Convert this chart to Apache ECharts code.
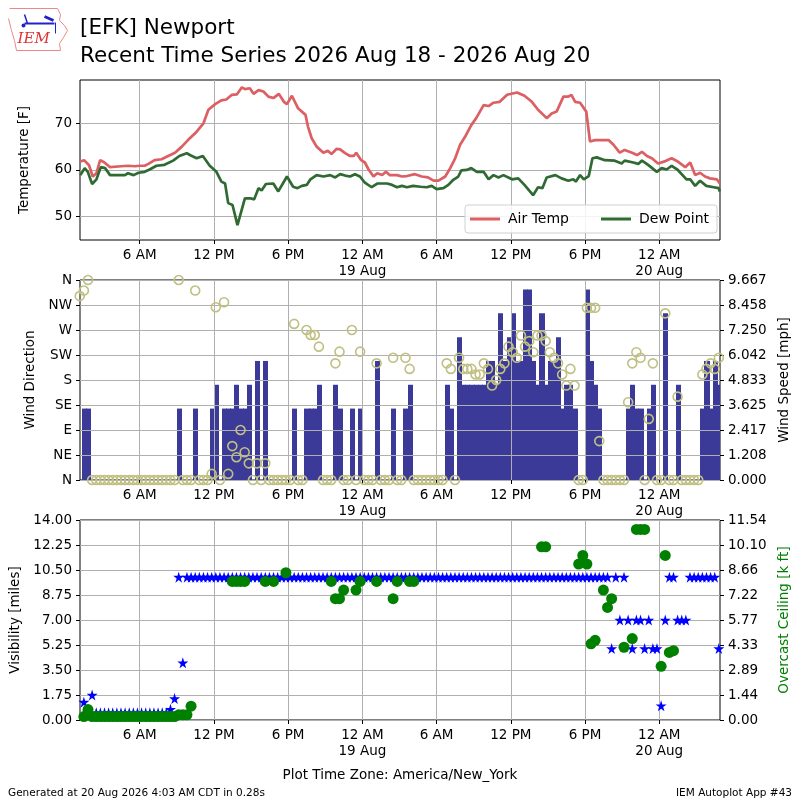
<!DOCTYPE html>
<html>
<head>
<meta charset="utf-8">
<title>[EFK] Newport</title>
<script src="https://cdn.jsdelivr.net/npm/echarts@6/dist/echarts.min.js"></script>
<style>
html, body { margin: 0; padding: 0; background: #fff; }
#main { width: 800px; height: 800px; }
</style>
</head>
<body>
<div id="main"></div>
<script>
// all times are hours since 2026-08-18 00:00 America/New_York
var xTickHours = [6, 12, 18, 24, 30, 36, 42, 48];
var xTickLabels = ['6 AM', '12 PM', '6 PM', '12 AM\n19 Aug', '6 AM', '12 PM', '6 PM', '12 AM\n20 Aug'];

// air temperature [F]
var airHours = [1.2,1.5,1.9,2.2,2.5,2.8,3.15,3.6,4.5,5.05,5.6,6.0,6.4,6.7,7.2,7.76,8.3,8.85,9.4,9.9,
  10.6,11.15,11.55,12.1,12.6,13.0,13.45,13.86,14.26,14.5,14.9,15.2,15.6,16.0,16.4,16.8,17.25,17.65,17.9,18.3,
  18.8,19.4,19.6,19.9,20.3,20.85,21.2,21.5,21.9,22.2,22.6,23.0,23.3,23.5,23.9,24.2,24.5,24.9,25.2,25.6,
  25.9,26.2,26.8,27.2,27.6,28.25,28.8,29.3,29.75,30.15,30.7,31.1,31.5,31.9,32.3,32.8,33.2,33.8,34.2,34.6,
  35.1,35.7,36.5,37.1,37.7,38.2,38.9,39.3,39.7,40.25,40.65,40.9,41.2,41.6,42.1,42.4,42.8,43.9,44.3,44.8,
  45.2,45.8,46.2,46.6,47.0,47.4,47.9,48.5,49.0,49.5,50.1,50.5,50.9,51.3,51.7,52.1,52.65,52.9];
var airF = [61.8,62.1,61.0,58.6,59.3,62.1,61.6,60.6,60.8,60.9,60.8,60.9,60.9,61.3,62.1,62.3,63.0,63.7,65.0,66.4,
  68.2,70.0,72.9,74.1,74.9,75.1,76.1,76.2,77.7,77.3,77.5,76.3,77.1,76.8,75.7,75.4,76.3,74.6,74.1,75.9,
  73.2,71.8,69.3,66.8,65.0,63.7,64.1,63.4,64.5,64.4,63.6,63.0,63.0,63.7,62.1,61.6,60.1,58.6,59.3,58.9,
  59.6,58.9,58.9,58.6,58.7,59.1,58.6,58.4,57.7,57.7,58.6,60.4,62.5,65.4,67.1,69.6,71.1,73.9,73.7,74.4,
  74.6,76.1,76.6,75.9,74.6,72.9,71.1,72.1,72.5,75.7,75.7,76.1,74.6,74.4,72.5,66.1,66.4,66.4,65.4,63.7,
  64.3,63.7,63.2,63.9,63.0,62.5,61.4,61.9,62.5,61.8,60.6,61.6,58.9,59.4,58.6,58.2,58.0,57.1];

// dew point [F]
var dewHours = [1.2,1.55,1.8,2.15,2.5,2.85,3.2,3.6,4.8,5.05,5.5,5.9,6.4,6.8,7.35,8.0,8.7,9.2,9.8,10.05,
  10.6,11.1,11.66,12.2,12.6,12.9,13.15,13.5,13.9,14.5,15.0,15.25,15.6,15.85,16.2,16.8,17.2,17.9,18.4,18.75,
  19.1,19.5,19.8,20.3,20.85,21.4,21.8,22.2,22.6,23.0,23.4,23.8,24.2,24.75,25.2,26.0,26.4,26.8,27.2,27.6,
  28.1,28.7,29.2,29.6,30.0,30.55,30.95,31.35,31.75,32.0,32.45,32.8,33.25,33.8,34.2,34.6,35.0,35.4,35.8,36.1,
  36.6,37.1,37.8,38.2,38.55,38.9,39.6,40.1,40.65,41.05,41.25,41.6,41.9,42.3,42.6,42.95,43.6,44.4,44.96,45.2,
  45.9,46.3,46.6,47.1,47.8,48.2,48.6,49.0,49.5,50.2,50.5,50.9,51.3,51.8,52.4,52.8,52.9];
var dewF = [58.9,60.4,59.6,57.0,58.0,60.6,60.4,58.9,58.9,59.3,58.9,59.4,59.6,60.1,60.9,61.1,62.0,63.0,63.6,63.2,
  62.5,63.0,60.9,59.6,57.5,57.1,52.9,52.5,48.2,53.9,53.9,53.7,56.1,55.6,57.0,57.1,55.4,58.6,56.4,56.1,
  56.6,56.8,58.0,58.9,58.6,58.9,58.4,59.1,58.8,58.6,59.1,58.6,57.3,56.3,57.1,57.1,56.8,56.3,56.6,56.3,
  56.6,56.4,56.3,56.6,55.9,56.1,56.8,57.9,58.6,59.9,60.0,60.4,59.6,59.6,58.0,58.9,58.4,58.9,58.4,58.0,
  58.2,56.8,54.6,56.3,56.1,58.4,58.9,58.2,57.7,58.0,57.5,58.9,58.0,58.7,62.5,62.7,62.1,62.0,61.4,62.0,
  61.6,61.3,62.0,61.1,59.6,60.4,60.1,60.9,60.0,58.0,58.0,56.6,57.7,56.6,56.3,56.1,55.4];

// 20 minute observations: slot k is at obsStartHour + k * obsStepHours
var obsStartHour = 1.15;
var obsStepHours = 1 / 3;

// wind speed [knots], one per slot
var windKt = [
  0,3,3,0,0,0,0,0,0,0,0,0,
  0,0,0,0,0,0,0,0,0,0,0,0,
  3,0,0,0,3,0,0,0,3,4,0,3,
  3,3,4,3,3,4,0,5,0,5,0,0,
  0,0,0,0,3,0,0,3,3,3,4,0,
  0,0,4,3,0,0,3,0,3,0,0,0,
  5,0,0,0,3,0,0,3,4,0,0,0,
  0,0,0,0,0,4,3,0,6,4,4,4,
  4,4,4,5,5,4,7,5,6,7,5,5,
  8,8,5,4,7,4,5,5,6,3,4,4,
  3,0,0,8,5,4,3,0,0,0,0,0,
  0,3,4,3,3,0,3,4,0,0,7,0,
  0,4,0,0,0,0,0,3,5,3,5,4];

// wind direction [deg], one per slot
var windDir = [
  331,341,360,0,0,0,0,0,0,0,0,0,
  0,0,0,0,0,0,0,0,0,0,0,0,
  360,0,0,0,341,0,0,0,11,311,0,320,
  11,61,41,90,50,30,0,30,0,30,0,0,
  0,0,0,0,281,0,0,270,261,261,240,0,
  0,0,210,231,0,0,270,0,231,0,0,0,
  210,0,0,0,220,0,0,220,200,0,0,0,
  0,0,0,0,0,210,200,0,220,200,200,200,
  190,190,210,200,170,180,200,210,240,230,220,260,
  240,250,230,260,260,250,230,220,210,190,170,200,
  170,0,0,310,310,310,70,0,0,0,0,0,
  0,140,210,230,220,0,110,210,0,0,300,0,
  0,150,0,0,0,0,0,190,200,210,200,220];

// visibility [miles], one per slot
var visMiles = [
  null,1.25,0.5,1.75,0.5,0.5,0.5,0.5,0.5,0.5,0.5,0.5,
  0.5,0.5,0.5,0.5,0.5,0.5,0.5,0.5,0.5,0.5,0.75,1.5,
  10,4,10,10,10,10,10,10,10,10,10,10,
  10,10,10,10,10,10,10,10,10,10,10,10,
  10,10,10,10,10,10,10,10,10,10,10,10,
  10,10,10,10,10,10,10,10,10,10,10,10,
  10,10,10,10,10,10,10,10,10,10,10,10,
  10,10,10,10,10,10,10,10,10,10,10,10,
  10,10,10,10,10,10,10,10,10,10,10,10,
  10,10,10,10,10,10,10,10,10,10,10,10,
  10,10,10,10,10,10,10,10,10,5,10,7,
  10,7,5,7,7,5,7,5,5,1,7,10,
  10,7,7,7,10,10,10,10,10,10,10,5];

// overcast ceiling [k ft], only at the slots that reported one
var ceilSlot = [1,2,3,4,5,6,7,8,9,10,11,12,13,14,15,16,17,18,19,20,21,22,23,24,25,26,27,
  37,38,39,40,45,47,50,61,62,63,64,67,68,72,76,77,80,81,
  112,113,121,122,123,124,125,127,128,129,132,134,135,136,137,141,142,143,144];
var ceilKft = [0.2,0.6,0.2,0.2,0.2,0.2,0.2,0.2,0.2,0.2,0.2,0.2,0.2,0.2,0.2,0.2,0.2,0.2,0.2,0.2,0.2,0.2,0.2,0.3,0.3,0.3,0.8,
  8.0,8.0,8.0,8.0,8.0,8.0,8.5,8.0,7.0,7.0,7.5,7.5,8.0,8.0,7.0,8.0,8.0,8.0,
  10.0,10.0,9.0,9.5,9.0,4.4,4.6,7.5,6.5,7.0,4.2,4.7,11.0,11.0,11.0,3.1,9.5,3.9,4.0];

var dirLabels = ['N', 'NE', 'E', 'SE', 'S', 'SW', 'W', 'NW', 'N'];
var speedTickLabels = ['0.000','1.208','2.417','3.625','4.833','6.042','7.250','8.458','9.667'];
var ceilTickLabels = ['0.00','1.44','2.89','4.33','5.77','7.22','8.66','10.10','11.54'];
var tempTicks = [50, 60, 70];

var KT_TO_MPH = 1.15078;
var FONT = 'DejaVu Sans';

function slotHour(k) { return obsStartHour + k * obsStepHours; }
function pairs(xs, ys) { return xs.map(function (x, i) { return [x, ys[i]]; }); }

var windData = windKt.map(function (v, k) { return [slotHour(k), v * KT_TO_MPH]; });
var dirData = windDir.map(function (v, k) { return [slotHour(k), v]; });
var visData = [];
visMiles.forEach(function (v, k) { if (v !== null) visData.push([slotHour(k), v]); });
var ceilData = ceilSlot.map(function (k, i) { return [slotHour(k), ceilKft[i]]; });

var STAR = 'path://M50,0 L61,35 L98,35 L68,57 L79,91 L50,70 L21,91 L32,57 L2,35 L39,35 Z';
var xMin = 1.17, xMax = 52.91;
var speedMax = 9.667, ceilMax = 11.545;
var BAR_BLUE = '#3b3a98';

// each wind bar spans its 20 minute slot (snapped to whole pixels so neighbours touch)
function renderWindBar(params, api) {
    var t = api.value(0), v = api.value(1);
    if (!v) return null;
    var p0 = api.coord([t - obsStepHours / 2, 0]);
    var p1 = api.coord([t + obsStepHours / 2, v]);
    var x0 = Math.round(p0[0]), x1 = Math.round(p1[0]) + 1;
    var shape = echarts.graphic.clipRectByRect({
        x: x0, y: p1[1], width: x1 - x0, height: p0[1] - p1[1]
    }, {
        x: params.coordSys.x, y: params.coordSys.y, width: params.coordSys.width, height: params.coordSys.height
    });
    return shape && { type: 'rect', shape: shape, style: { fill: BAR_BLUE, stroke: null, lineWidth: 0 } };
}

function xAxisFor(grid) {
    return {
        type: 'value', gridIndex: grid, min: xMin, max: xMax,
        axisLine: { show: false },
        axisTick: { show: true, length: 4, customValues: xTickHours, lineStyle: { color: '#000' } },
        axisLabel: {
            customValues: xTickHours, margin: 7, color: '#000', fontFamily: FONT, fontSize: 13.5, lineHeight: 16,
            formatter: function (v) { return xTickLabels[xTickHours.indexOf(Math.round(v))]; }
        },
        splitLine: { show: true, lineStyle: { color: '#b0b0b0', width: 1 } },
        z: 1
    };
}

function yBase(extra) {
    var o = {
        type: 'value',
        axisLine: { show: false },
        axisTick: { show: true, length: 4, lineStyle: { color: '#000' } },
        axisLabel: { color: '#000', fontFamily: FONT, fontSize: 13.5, margin: 8 },
        splitLine: { show: true, lineStyle: { color: '#b0b0b0', width: 1 } },
        nameLocation: 'middle',
        nameTextStyle: { color: '#000', fontFamily: FONT, fontSize: 13.5 },
        z: 1
    };
    for (var key in extra) o[key] = extra[key];
    return o;
}

var myChart = echarts.init(document.getElementById('main'), null, { renderer: 'canvas' });

var option = {
    animation: false,
    backgroundColor: '#fff',
    textStyle: { fontFamily: FONT },
    grid: [
        { left: 80, top: 80, width: 640, height: 160, show: true, borderColor: '#000', borderWidth: 1, backgroundColor: 'transparent' },
        { left: 80, top: 280, width: 640, height: 200, show: true, borderColor: '#000', borderWidth: 1, backgroundColor: 'transparent' },
        { left: 80, top: 520, width: 640, height: 200, show: true, borderColor: '#000', borderWidth: 1, backgroundColor: 'transparent' }
    ],
    xAxis: [xAxisFor(0), xAxisFor(1), xAxisFor(2)],
    yAxis: [
        yBase({
            gridIndex: 0, min: 45, max: 79.27, name: 'Temperature [F]', nameGap: 49,
            axisTick: { show: true, length: 4, customValues: tempTicks, lineStyle: { color: '#000' } },
            axisLabel: { customValues: tempTicks, color: '#000', fontFamily: FONT, fontSize: 13.5, margin: 8 }
        }),
        yBase({
            gridIndex: 1, min: 0, max: 360, interval: 45, name: 'Wind Direction', nameGap: 40,
            axisLabel: {
                color: '#000', fontFamily: FONT, fontSize: 13.5, margin: 8,
                formatter: function (v) { return dirLabels[Math.round(v / 45)]; }
            }
        }),
        yBase({
            gridIndex: 1, position: 'right', min: 0, max: speedMax, interval: speedMax / 8,
            name: 'Wind Speed [mph]', nameGap: 55,
            splitLine: { show: false },
            axisLabel: {
                color: '#000', fontFamily: FONT, fontSize: 13.5, margin: 8,
                formatter: function (v) { return speedTickLabels[Math.round(v / (speedMax / 8))]; }
            }
        }),
        yBase({
            gridIndex: 2, min: 0, max: 14, interval: 1.75, name: 'Visibility [miles]', nameGap: 56,
            axisLabel: {
                color: '#000', fontFamily: FONT, fontSize: 13.5, margin: 8,
                formatter: function (v) { return v.toFixed(2); }
            }
        }),
        yBase({
            gridIndex: 2, position: 'right', min: 0, max: ceilMax, interval: ceilMax / 8,
            name: 'Overcast Ceiling [k ft]', nameGap: 53,
            nameTextStyle: { color: '#008000', fontFamily: FONT, fontSize: 13.5 },
            splitLine: { show: false },
            axisLabel: {
                color: '#000', fontFamily: FONT, fontSize: 13.5, margin: 8,
                formatter: function (v) { return ceilTickLabels[Math.round(v / (ceilMax / 8))]; }
            }
        })
    ],
    legend: {
        data: ['Air Temp', 'Dew Point'],
        left: 465, top: 205,
        icon: 'rect', itemWidth: 30, itemHeight: 3, itemGap: 32,
        padding: [7, 8, 7, 5],
        borderColor: '#d0d0d0', borderWidth: 1, borderRadius: 3,
        backgroundColor: 'rgba(255,255,255,0.85)',
        textStyle: { color: '#000', fontFamily: FONT, fontSize: 14, padding: [0, 0, 0, 3] }
    },
    graphic: [
        {
            type: 'text', left: 80, top: 14,
            style: {
                text: '[EFK] Newport\nRecent Time Series 2026 Aug 18 - 2026 Aug 20',
                font: '21.5px "DejaVu Sans"', lineHeight: 28, fill: '#000'
            }
        },
        {
            type: 'text', x: 400, y: 775,
            style: { text: 'Plot Time Zone: America/New_York', font: '13.5px "DejaVu Sans"', fill: '#000', textAlign: 'center', textVerticalAlign: 'middle' }
        },
        {
            type: 'text', x: 8, y: 793,
            style: { text: 'Generated at 20 Aug 2026 4:03 AM CDT in 0.28s', font: '10.5px "DejaVu Sans"', fill: '#000', textAlign: 'left', textVerticalAlign: 'middle' }
        },
        {
            type: 'text', x: 792, y: 793,
            style: { text: 'IEM Autoplot App #43', font: '10.5px "DejaVu Sans"', fill: '#000', textAlign: 'right', textVerticalAlign: 'middle' }
        },
        {
            // IEM logo
            type: 'group', left: 6, top: 6,
            children: [
                { type: 'polyline', shape: { points: [[2,2],[50,2],[53,8],[52,14],[57,19],[60,24],[56,31],[52,37],[53,44],[9,44],[7,34],[4,24],[1,12]] }, style: { stroke: '#e88', fill: 'none', lineWidth: 1 } },
                { type: 'line', shape: { x1: 17, y1: 17, x2: 47, y2: 17 }, style: { stroke: '#22c', lineWidth: 2 } },
                { type: 'line', shape: { x1: 17, y1: 8, x2: 20, y2: 17 }, style: { stroke: '#22c', lineWidth: 1.5 } },
                { type: 'line', shape: { x1: 37, y1: 10, x2: 46, y2: 14 }, style: { stroke: '#22c', lineWidth: 3 } },
                { type: 'circle', shape: { cx: 16, cy: 19, r: 2 }, style: { fill: '#22c' } },
                { type: 'line', shape: { x1: 48, y1: 16, x2: 48, y2: 27 }, style: { stroke: '#22c', lineWidth: 1 } },
                { type: 'text', x: 10, y: 25, style: { text: 'IEM', font: 'italic 15px "DejaVu Serif"', fill: '#d33' } }
            ]
        }
    ],
    series: [
        {
            name: 'Air Temp', type: 'line', xAxisIndex: 0, yAxisIndex: 0,
            data: pairs(airHours, airF), showSymbol: false, symbol: 'none',
            lineStyle: { color: '#dc5f64', width: 2.7 }, itemStyle: { color: '#dc5f64' }, z: 3
        },
        {
            name: 'Dew Point', type: 'line', xAxisIndex: 0, yAxisIndex: 0,
            data: pairs(dewHours, dewF), showSymbol: false, symbol: 'none',
            lineStyle: { color: '#2f6a33', width: 2.7 }, itemStyle: { color: '#2f6a33' }, z: 3
        },
        {
            name: 'Wind Speed', type: 'custom', xAxisIndex: 1, yAxisIndex: 2,
            data: windData, renderItem: renderWindBar,
            encode: { x: 0, y: 1 }, z: 0
        },
        {
            name: 'Wind Direction', type: 'scatter', xAxisIndex: 1, yAxisIndex: 1,
            data: dirData, symbol: 'circle', symbolSize: 9, clip: false,
            itemStyle: { color: 'rgba(0,0,0,0)', borderColor: '#c0c083', borderWidth: 1.6, opacity: 1 }, z: 3
        },
        {
            name: 'Visibility', type: 'scatter', xAxisIndex: 2, yAxisIndex: 3,
            data: visData, symbol: STAR, symbolSize: 11,
            itemStyle: { color: '#0000ff', opacity: 1 }, z: 3
        },
        {
            name: 'Ceiling', type: 'scatter', xAxisIndex: 2, yAxisIndex: 4,
            data: ceilData, symbol: 'circle', symbolSize: 11,
            itemStyle: { color: '#008000', opacity: 1 }, z: 4
        }
    ]
};

myChart.setOption(option);
</script>
</body>
</html>
